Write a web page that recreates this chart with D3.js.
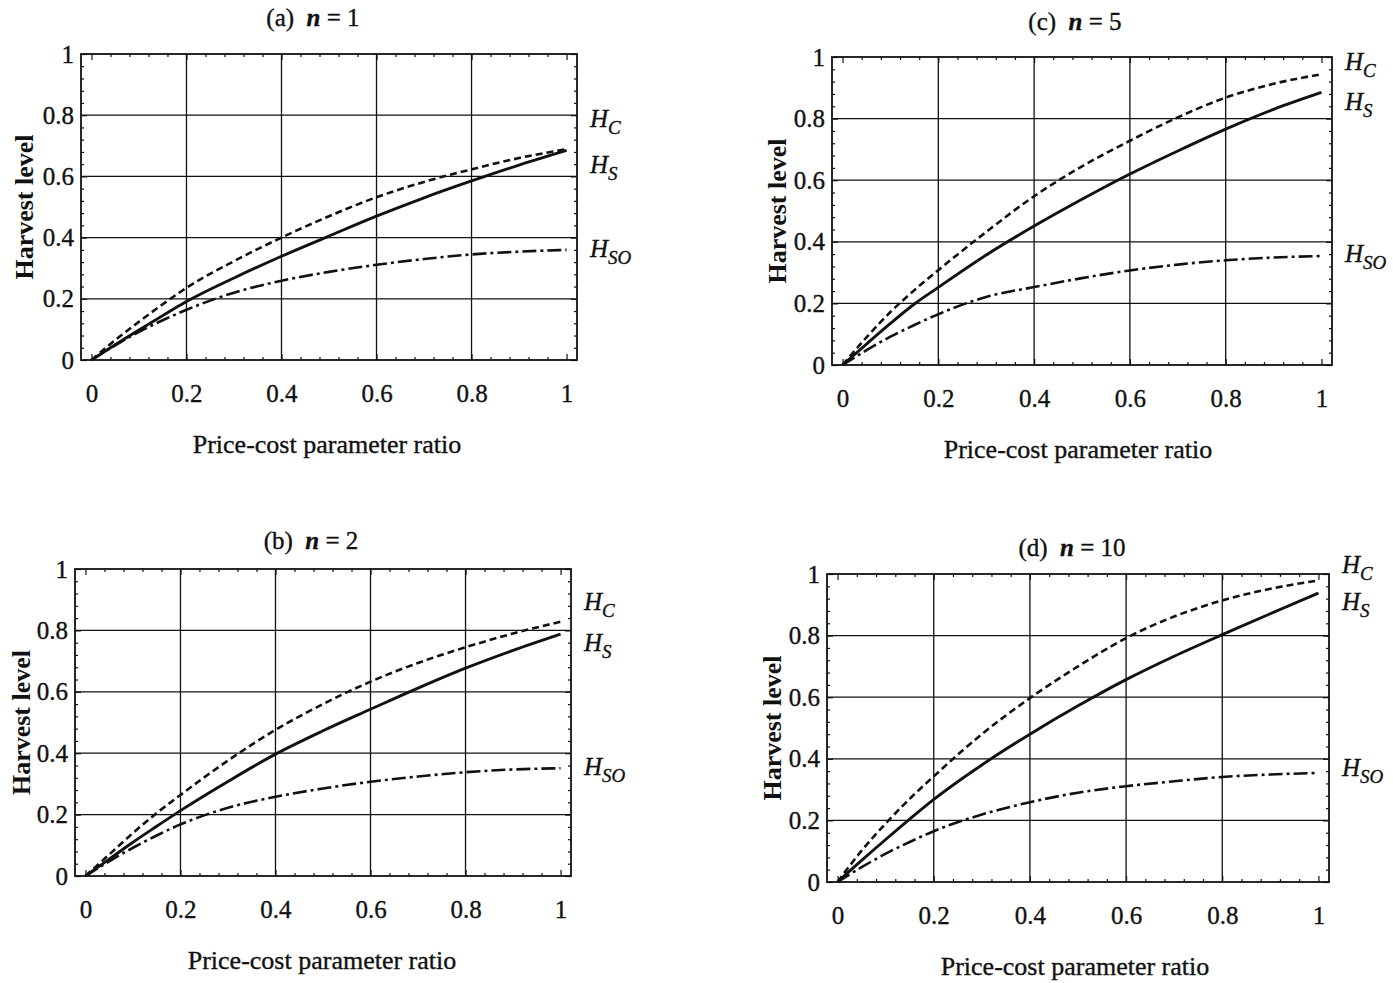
<!DOCTYPE html>
<html><head><meta charset="utf-8">
<script src="https://cdn.jsdelivr.net/npm/d3@7"></script>
<style>
body{margin:0;background:#fff;}
svg text{font-family:"Liberation Serif","Times New Roman",serif;fill:#111;stroke:#111;stroke-width:0.35px;}
</style></head><body>
<svg id="chart" width="1393" height="983"></svg>
<script>
// ---------- data ----------
const xValues = [0, 0.05, 0.1, 0.15, 0.2, 0.3, 0.4, 0.5, 0.6, 0.7, 0.8, 0.9, 1.0];
const panelLetters = ["(a)", "(b)", "(c)", "(d)"];
const nValues = [1, 2, 5, 10];
const seriesSubscripts = ["C", "S", "SO"];

const hcA  = [0, 0.065, 0.125, 0.182, 0.236, 0.323, 0.400, 0.470, 0.532, 0.582, 0.623, 0.660, 0.689];
const hsA  = [0, 0.050, 0.098, 0.145, 0.191, 0.268, 0.339, 0.405, 0.470, 0.530, 0.585, 0.637, 0.685];
const hsoA = [0, 0.048, 0.092, 0.130, 0.164, 0.220, 0.259, 0.288, 0.311, 0.330, 0.345, 0.354, 0.360];

const hcB  = [0, 0.070, 0.140, 0.205, 0.264, 0.376, 0.476, 0.560, 0.633, 0.694, 0.745, 0.790, 0.828];
const hsB  = [0, 0.055, 0.110, 0.162, 0.213, 0.308, 0.397, 0.473, 0.543, 0.612, 0.677, 0.735, 0.788];
const hsoB = [0, 0.048, 0.092, 0.132, 0.168, 0.222, 0.258, 0.285, 0.307, 0.324, 0.338, 0.347, 0.351];

const hcC  = [0, 0.090, 0.172, 0.243, 0.308, 0.432, 0.548, 0.645, 0.728, 0.804, 0.868, 0.913, 0.944];
const hsC  = [0, 0.068, 0.135, 0.198, 0.252, 0.357, 0.451, 0.538, 0.620, 0.695, 0.766, 0.830, 0.885];
const hsoC = [0, 0.048, 0.092, 0.130, 0.165, 0.221, 0.253, 0.282, 0.307, 0.326, 0.340, 0.349, 0.354];

const hcD  = [0, 0.102, 0.190, 0.270, 0.343, 0.480, 0.597, 0.700, 0.792, 0.862, 0.914, 0.952, 0.979];
const hsD  = [0, 0.070, 0.138, 0.204, 0.268, 0.380, 0.480, 0.572, 0.657, 0.733, 0.803, 0.871, 0.938];
const hsoD = [0, 0.048, 0.092, 0.130, 0.165, 0.219, 0.259, 0.290, 0.311, 0.327, 0.341, 0.349, 0.354];

const xTicks = [0, 0.2, 0.4, 0.6, 0.8, 1];
const yTicks = [0, 0.2, 0.4, 0.6, 0.8, 1];
const xTickLabels = ["0", "0.2", "0.4", "0.6", "0.8", "1"];
const yTickLabels = ["0", "0.2", "0.4", "0.6", "0.8", "1"];
const gridValues = [0.2, 0.4, 0.6, 0.8];
const xTitle = "Price-cost parameter ratio";
const yTitle = "Harvest level";

// ---------- layout ----------
const layouts = [
  {L:81,  R:577,  T:54,  B:360, tx:313,  ty:26,  xtx:327,  xty:453, ytx:33,  labels:[127,173,257]},
  {L:75,  R:571,  T:569, B:876, tx:311,  ty:549, xtx:322,  xty:969, ytx:30,  labels:[610,651,775]},
  {L:832, R:1332, T:57,  B:365, tx:1075, ty:30,  xtx:1078, xty:458, ytx:786, labels:[70,110,262]},
  {L:827, R:1329, T:574, B:882, tx:1072, ty:556, xtx:1075, xty:975, ytx:781, labels:[573,610,776]}
];
const panelSeries = [[hcA,hsA,hsoA],[hcB,hsB,hsoB],[hcC,hsC,hsoC],[hcD,hsD,hsoD]];
const styles = [
  {dash:"7,4", w:2.6},
  {dash:null, w:2.9},
  {dash:"14,4,3,4", w:2.6}
];

const svg = d3.select("#chart");
const pad = 0.022;

panelSeries.forEach((series, pi) => {
  const lay = layouts[pi];
  const g = svg.append("g");
  const x = d3.scaleLinear().domain([-pad, 1 + pad]).range([lay.L, lay.R]);
  const y = d3.scaleLinear().domain([0, 1]).range([lay.B, lay.T]);

  // grid
  g.selectAll(".vg").data(gridValues).join("line")
    .attr("x1", d => x(d)).attr("x2", d => x(d))
    .attr("y1", lay.T).attr("y2", lay.B)
    .attr("stroke", "#111").attr("stroke-width", 1.3);
  g.selectAll(".hg").data(gridValues).join("line")
    .attr("class","hg")
    .attr("x1", lay.L).attr("x2", lay.R)
    .attr("y1", d => y(d)).attr("y2", d => y(d))
    .attr("stroke", "#111").attr("stroke-width", 1.3);

  // inner ticks (major + minor) on all four sides
  const minor = d3.range(0, 1.0001, 0.04).filter(v => !xTicks.some(t => Math.abs(t - v) < 1e-6));
  function tickAxis(axisFn, scale, vals, size, tr) {
    const a = g.append("g").attr("transform", tr)
      .call(axisFn(scale).tickValues(vals).tickSize(size).tickFormat(""));
    a.select(".domain").remove();
    a.selectAll("line").attr("stroke", "#111").attr("stroke-width", 1.2);
  }
  [[xTicks,6],[minor,3]].forEach(([vals,s]) => {
    tickAxis(d3.axisTop, x, vals, s, `translate(0,${lay.B})`);
    tickAxis(d3.axisBottom, x, vals, s, `translate(0,${lay.T})`);
    tickAxis(d3.axisRight, y, vals, s, `translate(${lay.L},0)`);
    tickAxis(d3.axisLeft, y, vals, s, `translate(${lay.R},0)`);
  });

  // frame
  g.append("rect").attr("x", lay.L).attr("y", lay.T)
    .attr("width", lay.R - lay.L).attr("height", lay.B - lay.T)
    .attr("fill", "none").attr("stroke", "#111").attr("stroke-width", 1.8);

  // tick labels
  const xa = g.append("g").attr("transform", `translate(0,${lay.B})`)
    .call(d3.axisBottom(x).tickValues(xTicks).tickSize(0).tickPadding(24)
      .tickFormat((d, i) => xTickLabels[i]));
  xa.select(".domain").remove();
  const ya = g.append("g").attr("transform", `translate(${lay.L},0)`)
    .call(d3.axisLeft(y).tickValues(yTicks).tickSize(0).tickPadding(7)
      .tickFormat((d, i) => yTickLabels[i]));
  ya.select(".domain").remove();
  g.selectAll(".tick text").attr("font-size", 25)
    .style("font-family", '"Liberation Serif",serif').attr("fill", "#111");

  // curves
  const line = d3.line().x(d => x(d[0])).y(d => y(d[1])).curve(d3.curveMonotoneX);
  series.forEach((vals, si) => {
    const pts = xValues.map((xv, k) => [xv, vals[k]]);
    g.append("path").datum(pts).attr("d", line)
      .attr("fill", "none").attr("stroke", "#111")
      .attr("stroke-width", styles[si].w)
      .attr("stroke-dasharray", styles[si].dash)
      .attr("stroke-linejoin", "round");
  });

  // curve labels
  series.forEach((vals, si) => {
    const t = g.append("text").attr("x", lay.R + 13).attr("y", lay.labels[si])
      .attr("font-size", 25).attr("font-style", "italic");
    t.append("tspan").text("H");
    t.append("tspan").attr("dy", 7).attr("font-size", 19).text(seriesSubscripts[si]);
  });

  // panel title
  const tt = g.append("text").attr("x", lay.tx).attr("y", lay.ty)
    .attr("text-anchor", "middle").attr("font-size", 25);
  tt.append("tspan").text(panelLetters[pi] + "\u00a0 ");
  tt.append("tspan").attr("font-style", "italic").attr("font-weight", "bold").text("n");
  tt.append("tspan").text(" = " + nValues[pi]);

  // axis titles
  g.append("text").attr("x", lay.xtx).attr("y", lay.xty)
    .attr("text-anchor", "middle").attr("font-size", 26).text(xTitle);
  g.append("text").attr("transform", `translate(${lay.ytx},${(lay.T + lay.B) / 2}) rotate(-90)`)
    .attr("text-anchor", "middle").attr("font-size", 26).attr("font-weight", "bold")
    .style("stroke-width", "0px").text(yTitle);
});
</script>
</body></html>
